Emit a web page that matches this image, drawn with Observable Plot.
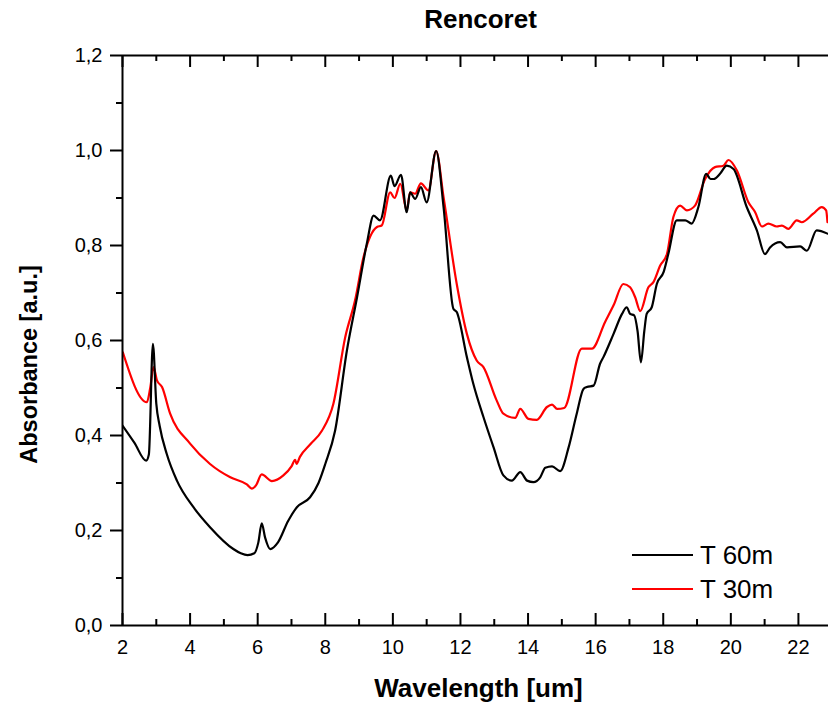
<!DOCTYPE html>
<html>
<head>
<meta charset="utf-8">
<script src="https://cdn.jsdelivr.net/npm/d3@7"></script>
<script src="https://cdn.jsdelivr.net/npm/@observablehq/plot@0.6"></script>
<style>
  html, body { margin: 0; padding: 0; background: #fff; overflow: hidden; }
  #wrap { position: relative; width: 828px; height: 708px; font-family: "Liberation Sans", Arial, sans-serif; color: #000; }
  #legend { position: absolute; left: 632px; top: 538px; font-size: 26px; line-height: 34px; }
  .row { display: flex; align-items: center; height: 34px; }
  .sw { width: 61px; height: 0; border-top: 2px solid #000; margin-right: 7px; }
</style>
</head>
<body>
<div id="wrap"></div>
<script>
const title = "Rencoret";
const xLabel = "Wavelength [um]";
const yLabel = "Absorbance [a.u.]";
const seriesNames = ["T 60m", "T 30m"];
const seriesColors = ["#000000", "#ff0000"];

const xMajor = [2, 4, 6, 8, 10, 12, 14, 16, 18, 20, 22];
const xMinor = [3, 5, 7, 9, 11, 13, 15, 17, 19, 21];
const yMajor = [0, 0.2, 0.4, 0.6, 0.8, 1.0, 1.2];
const yMinor = [0.1, 0.3, 0.5, 0.7, 0.9, 1.1];

// T 60m (black)
const t60x = [2.00, 2.35, 2.70, 2.78, 2.90, 3.00, 3.10, 3.31, 3.61, 4.10, 4.59, 5.28, 5.50, 5.70, 5.90, 6.02, 6.12, 6.22, 6.37, 6.60, 6.90, 7.16, 7.55, 7.80, 8.00, 8.29, 8.64, 8.94, 9.23, 9.43, 9.62, 9.94, 10.05, 10.24, 10.41, 10.51, 10.66, 10.83, 11.00, 11.28, 11.50, 11.79, 11.89, 12.19, 12.38, 12.68, 12.98, 13.27, 13.52, 13.77, 13.97, 14.16, 14.36, 14.51, 14.71, 14.95, 15.20, 15.44, 15.64, 15.74, 15.94, 16.13, 16.23, 16.53, 16.78, 16.92, 17.02, 17.14, 17.24, 17.34, 17.44, 17.51, 17.66, 17.81, 18.01, 18.15, 18.40, 18.65, 18.84, 19.04, 19.27, 19.40, 19.49, 19.68, 19.88, 20.08, 20.47, 20.77, 21.01, 21.16, 21.46, 21.66, 22.05, 22.25, 22.54, 22.86];
const t60y = [0.421, 0.385, 0.347, 0.360, 0.593, 0.467, 0.420, 0.361, 0.305, 0.249, 0.207, 0.161, 0.152, 0.148, 0.152, 0.175, 0.215, 0.185, 0.161, 0.175, 0.220, 0.249, 0.270, 0.300, 0.340, 0.410, 0.579, 0.691, 0.804, 0.863, 0.853, 0.947, 0.925, 0.949, 0.870, 0.912, 0.898, 0.923, 0.891, 0.999, 0.881, 0.667, 0.660, 0.565, 0.509, 0.439, 0.375, 0.316, 0.305, 0.323, 0.305, 0.302, 0.312, 0.332, 0.335, 0.325, 0.375, 0.446, 0.498, 0.502, 0.505, 0.551, 0.565, 0.614, 0.656, 0.670, 0.656, 0.653, 0.620, 0.554, 0.620, 0.656, 0.670, 0.719, 0.744, 0.782, 0.853, 0.853, 0.846, 0.881, 0.951, 0.940, 0.940, 0.951, 0.968, 0.961, 0.881, 0.832, 0.782, 0.796, 0.807, 0.796, 0.798, 0.789, 0.832, 0.825];

// T 30m (red)
const t30x = [2.01, 2.72, 2.82, 2.92, 3.02, 3.17, 3.41, 4.00, 4.59, 5.19, 5.68, 5.83, 5.95, 6.12, 6.42, 6.76, 7.00, 7.11, 7.15, 7.25, 7.55, 7.90, 8.24, 8.59, 8.88, 9.13, 9.53, 9.67, 9.92, 10.05, 10.22, 10.41, 10.51, 10.66, 10.83, 11.05, 11.28, 11.50, 11.89, 12.19, 12.48, 12.68, 13.07, 13.27, 13.62, 13.77, 14.01, 14.26, 14.56, 14.71, 14.86, 15.07, 15.59, 15.89, 16.28, 16.53, 16.82, 17.02, 17.17, 17.32, 17.56, 17.71, 17.91, 18.11, 18.30, 18.50, 18.70, 18.94, 19.24, 19.53, 19.78, 19.93, 20.18, 20.52, 20.72, 20.92, 21.11, 21.36, 21.51, 21.70, 21.95, 22.10, 22.44, 22.69, 22.82, 22.86];
const t30y = [0.575, 0.470, 0.500, 0.544, 0.516, 0.502, 0.446, 0.383, 0.340, 0.312, 0.297, 0.288, 0.295, 0.318, 0.304, 0.316, 0.335, 0.349, 0.340, 0.355, 0.381, 0.410, 0.467, 0.607, 0.684, 0.775, 0.839, 0.842, 0.912, 0.900, 0.930, 0.874, 0.912, 0.909, 0.931, 0.916, 0.999, 0.902, 0.719, 0.614, 0.558, 0.544, 0.474, 0.446, 0.437, 0.456, 0.435, 0.433, 0.460, 0.465, 0.456, 0.458, 0.583, 0.583, 0.639, 0.674, 0.719, 0.712, 0.691, 0.662, 0.712, 0.723, 0.758, 0.782, 0.860, 0.884, 0.874, 0.884, 0.940, 0.965, 0.968, 0.980, 0.958, 0.891, 0.870, 0.840, 0.846, 0.840, 0.842, 0.835, 0.853, 0.849, 0.867, 0.881, 0.874, 0.849];

const t60 = t60x.map((x, i) => ({x, y: t60y[i]}));
const t30 = t30x.map((x, i) => ({x, y: t30y[i]}));

const fmt = d => d.toFixed(1).replace(".", ",");
const frameH = 570;

const chart = Plot.plot({
  width: 828,
  height: 708,
  marginTop: 55,
  marginBottom: 83,
  marginLeft: 122,
  marginRight: 0,
  style: {fontFamily: "'Liberation Sans', Arial, sans-serif", fontSize: "20px", background: "#fff", color: "#000", overflow: "visible"},
  x: {domain: [2, 22.89]},
  y: {domain: [0, 1.2]},
  marks: [
    Plot.line(t30, {x: "x", y: "y", stroke: seriesColors[1], strokeWidth: 2.2, curve: "monotone-x", clip: true}),
    Plot.line(t60, {x: "x", y: "y", stroke: seriesColors[0], strokeWidth: 2.2, curve: "monotone-x", clip: true}),
    Plot.ruleY([1.2], {stroke: "#000", strokeWidth: 2}),
    Plot.ruleY([0], {stroke: "#000", strokeWidth: 2}),
    Plot.ruleX([2], {stroke: "#000", strokeWidth: 2}),
    Plot.tickX(xMajor, {x: d => d, insetTop: frameH - 12, stroke: "#000", strokeWidth: 2}),
    Plot.tickX(xMinor, {x: d => d, insetTop: frameH - 6, stroke: "#000", strokeWidth: 2}),
    Plot.tickX(xMajor, {x: d => d, insetBottom: frameH - 12, stroke: "#000", strokeWidth: 2}),
    Plot.tickX(xMinor, {x: d => d, insetBottom: frameH - 6, stroke: "#000", strokeWidth: 2}),
    Plot.axisX({ticks: xMajor, tickSize: 0, tickPadding: 14, tickFormat: d => String(d), fontSize: 20, label: null}),
    Plot.axisY({ticks: yMajor, tickSize: 12, tickPadding: 8, tickFormat: fmt, fontSize: 20, label: null, strokeWidth: 2}),
    Plot.axisY({ticks: yMinor, tickSize: 6, tickFormat: () => "", label: null, strokeWidth: 2}),
    Plot.text([title], {frameAnchor: "top", dx: 5, dy: -28, lineAnchor: "bottom", fontWeight: "bold", fontSize: 26}),
    Plot.text([xLabel], {frameAnchor: "bottom", dx: 3, dy: 71, lineAnchor: "bottom", fontWeight: "bold", fontSize: 26}),
    Plot.text([yLabel], {frameAnchor: "left", dx: -86, dy: 24, rotate: -90, textAnchor: "middle", lineAnchor: "bottom", fontWeight: "bold", fontSize: 23.5})
  ]
});

const wrap = document.getElementById("wrap");
wrap.appendChild(chart);

const legend = document.createElement("div");
legend.id = "legend";
seriesNames.forEach((name, i) => {
  const row = document.createElement("div");
  row.className = "row";
  const sw = document.createElement("span");
  sw.className = "sw";
  sw.style.borderTopColor = seriesColors[i];
  const label = document.createElement("span");
  label.textContent = name;
  row.appendChild(sw);
  row.appendChild(label);
  legend.appendChild(row);
});
wrap.appendChild(legend);
</script>
</body>
</html>
